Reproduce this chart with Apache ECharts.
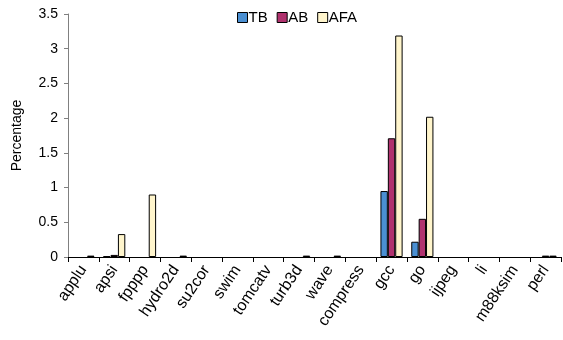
<!DOCTYPE html>
<html><head><meta charset="utf-8">
<script src="https://cdn.jsdelivr.net/npm/echarts@6/dist/echarts.min.js"></script>
<style>html,body{margin:0;padding:0;background:#fff}#c{width:563px;height:340px}</style>
</head><body><div id="c"></div>
<script>
const categories = ['applu','apsi','fpppp','hydro2d','su2cor','swim','tomcatv','turb3d','wave','compress','gcc','go','ijpeg','li','m88ksim','perl'];
const seriesNames = ['TB','AB','AFA'];
const tbValues  = [0, 0.01, 0, 0, 0, 0, 0, 0, 0, 0, 0.95, 0.22, 0, 0, 0, 0];
const abValues  = [0, 0.03, 0, 0, 0, 0, 0, 0, 0, 0, 1.71, 0.55, 0, 0, 0, 0.02];
const afaValues = [0.02, 0.33, 0.90, 0.02, 0, 0, 0, 0.02, 0.02, 0, 3.19, 2.02, 0, 0, 0, 0.02];
const yTicks = [0, 0.5, 1, 1.5, 2, 2.5, 3, 3.5];
const colors = ['#4A8FD2', '#B0326E', '#FFF5CC'];
const font = 'Liberation Sans, Arial, sans-serif';
const chart = echarts.init(document.getElementById('c'), null, {renderer:'canvas'});
const data = [tbValues, abValues, afaValues];
chart.setOption({
  animation: false,
  textStyle: {fontFamily: font},
  legend: {
    data: seriesNames, top: 10, left: 237, padding: 0, icon: 'rect', itemWidth: 10, itemHeight: 10, itemGap: 9,
    itemStyle: {borderColor: '#000', borderWidth: 1},
    textStyle: {fontSize: 15, lineHeight: 12, color: '#000', fontFamily: font, padding: [0,0,0,-4]}
  },
  grid: {left: 68, right: 2, top: 14, bottom: 83, containLabel: false},
  xAxis: {
    type: 'category', data: categories,
    axisLine: {lineStyle: {color: '#000', width: 1}},
    axisTick: {show: true, length: 5, lineStyle: {color: '#000'}},
    axisLabel: {rotate: 56, fontSize: 16, color: '#000', fontFamily: font, margin: 10, interval: 0}
  },
  yAxis: {
    type: 'value', min: yTicks[0], max: yTicks[yTicks.length-1], interval: 0.5,
    name: 'Percentage', nameLocation: 'middle', nameGap: 44,
    nameTextStyle: {fontSize: 14, color: '#000', fontFamily: font},
    axisLine: {show: true, lineStyle: {color: '#808080', width: 1}},
    axisTick: {show: true, length: 4, lineStyle: {color: '#808080'}},
    splitLine: {show: false},
    axisLabel: {fontSize: 14, color: '#000', fontFamily: font, margin: 10}
  },
  series: seriesNames.map((n, i) => ({
    name: n, type: 'bar', data: data[i].map(v => v === 0 ? '-' : v), barGap: '0%', barCategoryGap: '28%',
    itemStyle: {color: colors[i], borderColor: '#000', borderWidth: 1}
  }))
});
</script></body></html>
